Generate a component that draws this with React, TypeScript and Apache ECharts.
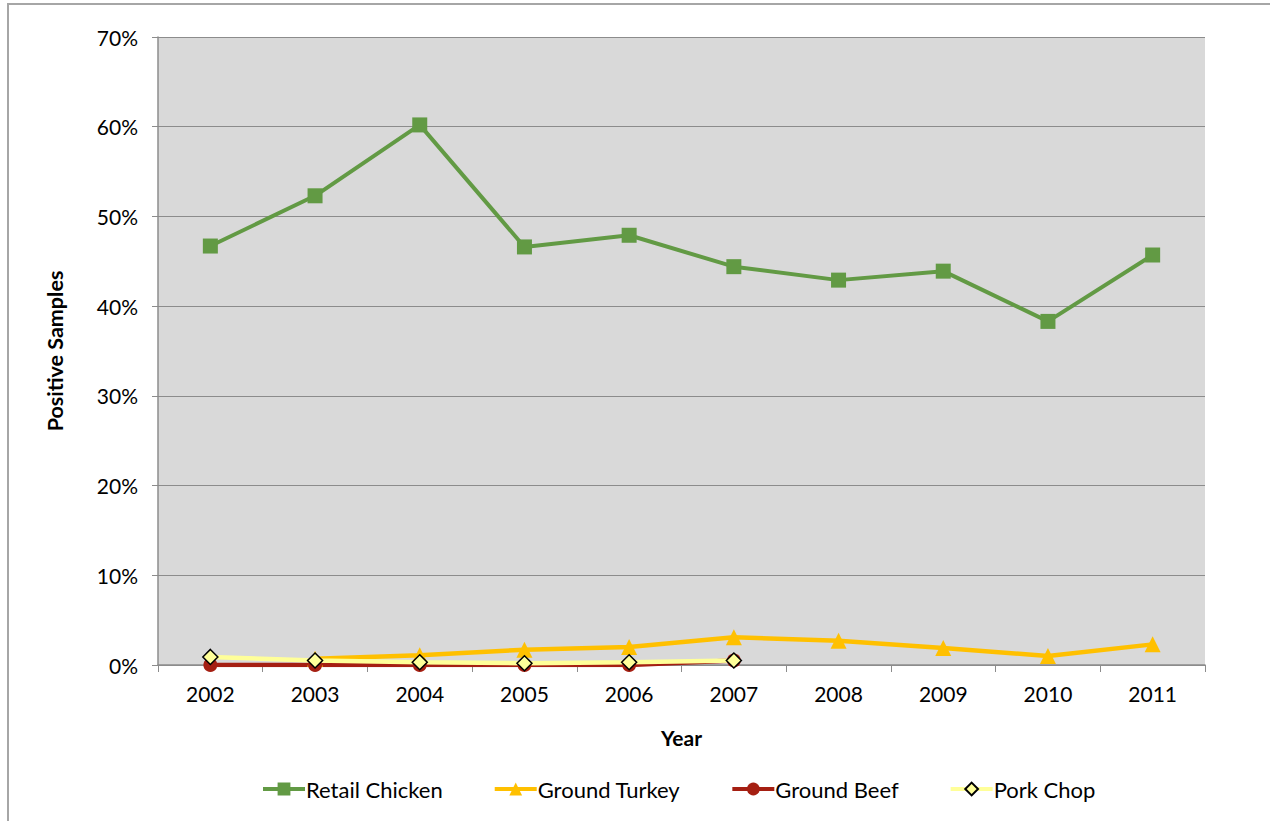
import React, { useEffect, useRef } from "react";
import * as echarts from "echarts";

const years = ["2002", "2003", "2004", "2005", "2006", "2007", "2008", "2009", "2010", "2011"];
const retailChicken = [46.7, 52.3, 60.2, 46.6, 47.9, 44.4, 42.9, 43.9, 38.3, 45.7];
const groundTurkey: (number | null)[] = [null, 0.7, 1.1, 1.7, 2.0, 3.1, 2.7, 1.9, 1.0, 2.3];
const groundBeef: (number | null)[] = [0, 0, 0, 0, 0, 0.5, null, null, null, null];
const porkChop: (number | null)[] = [0.9, 0.5, 0.3, 0.2, 0.3, 0.5, null, null, null, null];

const FONT = "Lato, 'Open Sans', sans-serif";

export default function App() {
  const ref = useRef<HTMLDivElement>(null);
  useEffect(() => {
    document.body.style.margin = "0";
    const chart = echarts.init(ref.current!, null, { renderer: "svg" });
    chart.setOption({
      animation: false,
      textStyle: { fontFamily: FONT },
      graphic: [
        {
          type: "rect",
          shape: { x: 8, y: 4, width: 1300, height: 900 },
          style: { fill: "none", stroke: "#a6a6a6", lineWidth: 2 },
          silent: true,
          z: -10,
        },
      ],
      grid: {
        left: 158,
        right: 65,
        top: 37,
        bottom: 156,
        show: true,
        backgroundColor: "#d9d9d9",
        borderWidth: 0,
      },
      legend: {
        bottom: 16,
        left: 256,
        itemGap: 50,
        itemWidth: 42,
        itemHeight: 16,
        lineStyle: { width: 4 },
        textStyle: { fontSize: 22, color: "#000", fontFamily: FONT, padding: [0, 0, 0, -4] },
        data: ["Retail Chicken", "Ground Turkey", "Ground Beef", "Pork Chop"],
      },
      xAxis: {
        type: "category",
        data: years,
        boundaryGap: true,
        name: "Year",
        nameLocation: "middle",
        nameGap: 62,
        nameTextStyle: { fontSize: 21, fontWeight: "bold", color: "#000", fontFamily: FONT },
        axisLine: { lineStyle: { color: "#8c8c8c", width: 1.5 } },
        axisTick: { show: true, length: 7, interval: 0, lineStyle: { color: "#8c8c8c" } },
        axisLabel: { fontSize: 21, color: "#000", margin: 18, fontFamily: FONT },
      },
      yAxis: {
        type: "value",
        min: 0,
        max: 70,
        interval: 10,
        name: "Positive Samples",
        nameLocation: "middle",
        nameGap: 92,
        nameRotate: 90,
        nameTextStyle: { fontSize: 21.5, fontWeight: "bold", color: "#000", fontFamily: FONT },
        axisLine: { show: true, lineStyle: { color: "#8c8c8c", width: 1.5 } },
        axisTick: { show: true, length: 6, lineStyle: { color: "#8c8c8c" } },
        axisLabel: { fontSize: 21, color: "#000", margin: 20, formatter: "{value}%", fontFamily: FONT },
        splitLine: { show: true, lineStyle: { color: "#8c8c8c", width: 1.2 } },
      },
      series: [
        {
          name: "Retail Chicken",
          type: "line",
          data: retailChicken,
          symbol: "rect",
          symbolSize: 15,
          lineStyle: { color: "#629a44", width: 4 },
          itemStyle: { color: "#629a44" },
        },
        {
          name: "Ground Turkey",
          type: "line",
          data: groundTurkey,
          symbol: "triangle",
          symbolSize: 16,
          lineStyle: { color: "#ffc000", width: 4.5 },
          itemStyle: { color: "#ffc000" },
        },
        {
          name: "Ground Beef",
          type: "line",
          data: groundBeef,
          symbol: "circle",
          symbolSize: 14,
          lineStyle: { color: "#a51f12", width: 4.5 },
          itemStyle: { color: "#a51f12" },
        },
        {
          name: "Pork Chop",
          type: "line",
          data: porkChop,
          symbol: "diamond",
          symbolSize: 15,
          lineStyle: { color: "#ffff99", width: 4.5 },
          itemStyle: { color: "#ffff99", borderColor: "#000", borderWidth: 1.5 },
        },
      ],
    });
    return () => chart.dispose();
  }, []);
  return <div ref={ref} style={{ width: 1270, height: 821 }} />;
}
